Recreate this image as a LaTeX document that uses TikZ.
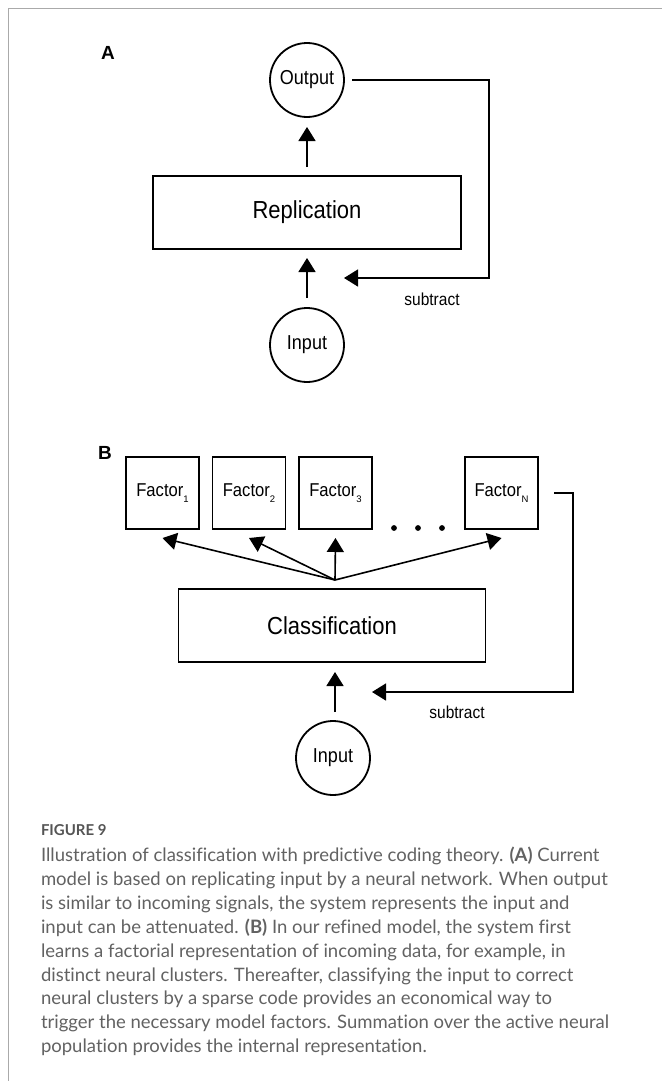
\documentclass[tikz,border=0pt]{standalone}
\usepackage{fontspec}
\setmainfont{Liberation Sans}
\newfontfamily\capfont[Ligatures=NoCommon]{Lato}
\usetikzlibrary{arrows.meta}
\definecolor{frameGray}{RGB}{170,170,170}
\definecolor{capGray}{RGB}{98,98,98}
\definecolor{headGray}{RGB}{85,85,85}
\newcommand{\fsz}[1]{\fontsize{#1}{#1}\selectfont}
\newcommand{\tall}[1]{\scalebox{1}[1.12]{#1}}
\newcommand{\sub}[1]{\raisebox{-5.5pt}{\fsz{9.5}#1}}
\begin{document}
\begin{tikzpicture}[x=1pt,y=-1pt,
  every node/.style={inner sep=0pt,outer sep=0pt},
  tip/.style={-{Triangle[length=14pt,width=17pt]}},
  box/.style={draw,line width=1.8pt,minimum width=308pt,minimum height=73pt,font=\fsz{22}},
  fbox/.style={draw,line width=1.5pt,minimum width=73pt,minimum height=72pt,font=\fsz{16.6}},
  unit/.style={draw,circle,line width=1.8pt,minimum size=74pt,font=\fsz{18}},
  conn/.style={line width=1.6pt},
  feed/.style={line width=1.5pt},
  panel/.style={font=\fsz{19}\bfseries},
  note/.style={font=\fsz{15.5}},
  capline/.style={anchor=base west,text=capGray,font=\capfont\fsz{18.5}}
]
\useasboundingbox (0,0) rectangle (662,1081);
\fill[white] (0,0) rectangle (662,1081);
\draw[frameGray,line width=1.5pt] (8.3,1081) -- (8.3,8.3) -- (662,8.3);

% Panel A: replication loop
\node[panel] (lblA) at (108,53) {A};
\node[unit] (outA) at (307,80) {\tall{Output}};
\node[box] (rep) at (307,212.5) {\tall{Replication}};
\node[unit] (inA) at (307,345) {\tall{Input}};
\draw[conn,tip,shorten <=9pt,shorten >=10pt] (rep.north) -- (outA.south);
\draw[conn,tip,shorten <=10pt,shorten >=9pt] (inA.north) -- (rep.south);
\coordinate (subA) at (344,278);
\draw[feed,tip,shorten <=8pt] (outA.east) -- (489,80) |- (subA);
\node[note] (txtA) at (432,299) {\tall{subtract}};

% Panel B: classification into factors
\node[panel] (lblB) at (105,453) {B};
\node[fbox] (f1) at (162.5,493) {\tall{Factor}\sub{1}};
\node[fbox] (f2) at (249,493) {\tall{Factor}\sub{2}};
\node[fbox] (f3) at (335.5,493) {\tall{Factor}\sub{3}};
\node[fbox] (fN) at (501.5,493) {\tall{Factor}\sub{N}};
\foreach \px in {394,418,442}
  \fill (\px,528) circle (2.9pt);
\node[box,minimum width=307pt] (cls) at (332,625.5) {\tall{Classification}};
\coordinate (hub) at (335,580);
\foreach \f in {f1,f2,f3,fN}
  \draw[conn,tip] (hub) -- ([yshift=-9pt]\f.south);
\node[unit] (inB) at (333,758) {\tall{Input}};
\draw[conn,tip,shorten <=9pt,shorten >=10pt] ([xshift=2pt]inB.north) -- ([xshift=2pt]inB.north |- cls.south);
\coordinate (subB) at (372,692);
\draw[feed,tip,shorten <=16pt] (fN.east) -- (573,493) |- (subB);
\node[note] (txtB) at (457,712) {\tall{subtract}};

% Caption
\node[anchor=base west,text=headGray,font=\capfont\fsz{15}\bfseries] (fig) at (41,835) {FIGURE 9};
\foreach \t [count=\i from 0] in {
  {Illustration of classification with predictive coding theory. \textbf{(A)} Current},
  {model is based on replicating input by a neural network. When output},
  {is similar to incoming signals, the system represents the input and},
  {input can be attenuated. \textbf{(B)} In our refined model, the system first},
  {learns a factorial representation of incoming data, for example, in},
  {distinct neural clusters. Thereafter, classifying the input to correct},
  {neural clusters by a sparse code provides an economical way to},
  {trigger the necessary model factors. Summation over the active neural},
  {population provides the internal representation.}}
  \node[capline] (cap\i) at (41,861.5+23.9*\i) {\t};
\end{tikzpicture}
\end{document}
